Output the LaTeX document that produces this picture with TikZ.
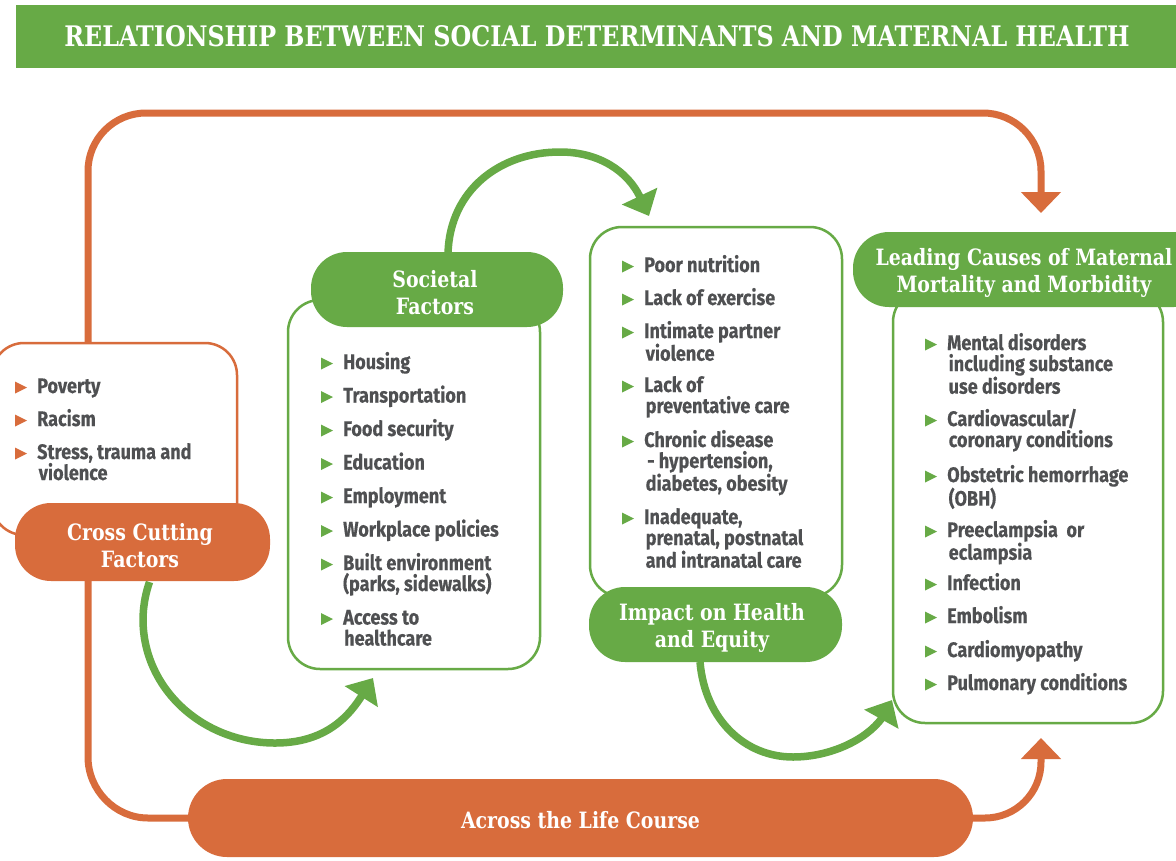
\documentclass[tikz,border=0pt]{standalone}
\usepackage{fontspec}
\usepackage{graphicx}
\usetikzlibrary{arrows.meta}

\newfontfamily\bodyfont[FakeStretch=0.86, BoldFeatures={FakeBold=0.35}]{Fira Sans}
\newfontfamily\headfont[FakeStretch=0.84]{DejaVu Serif}

\definecolor{mgreen}{HTML}{67AA46}
\definecolor{morange}{HTML}{D86C3C}
\definecolor{mgray}{HTML}{4F5052}

\tikzset{
  listbox/.style={draw=#1, line width=2.5pt, fill=white, rounded corners=32pt, inner sep=0},
  pill/.style={fill=#1, rounded corners=36pt, inner sep=0},
  headtxt/.style={text=white, align=center, inner sep=0,
    font=\headfont\bfseries\fontsize{22.5}{27}\selectfont},
  itemtxt/.style={anchor=base west, inner sep=0, text=mgray,
    font=\bodyfont\bfseries\fontsize{21}{21}\selectfont},
  oline/.style={draw=morange, line width=7pt},
  oarrow/.style={oline, -{Triangle[width=39pt,length=21pt]}},
  garrow/.style={draw=mgreen, line width=7.5pt, -{Triangle[width=38pt,length=22pt]}},
}

% bullet item: name, text x, first baseline y, bullet colour, lines
\newcommand\bitem[5]{%
  \node[itemtxt] (#1) at (#2,#3) {\vtop{#5}};
  \fill[#4] ({#2-22},{#3-11.5}) -- ({#2-10},{#3-5.5}) -- ({#2-22},{#3+0.5}) -- cycle;
}
\newcommand\iline[1]{\hbox{#1}}

\begin{document}
\begin{tikzpicture}[x=1pt,y=-1pt]
\useasboundingbox (0,0) rectangle (1176,860);
\clip (0,0) rectangle (1176,860);
\fill[white] (0,0) rectangle (1176,860);

% title banner
\node[fill=mgreen, minimum width=1160pt, minimum height=63pt, inner sep=0] (banner) at (596,36.5) {};
\node[text=white, inner sep=0] (title) at (597,36)
  {\resizebox{1065pt}{21pt}{\headfont\bfseries RELATIONSHIP BETWEEN SOCIAL DETERMINANTS AND MATERNAL HEALTH}};

% anchor points of the life-course loop
\coordinate (otop) at (88,343);
\coordinate (otip) at (1041,213);
\coordinate (obot) at (88,581);
\coordinate (ortip) at (1041,738);

% green flow arrows between the stages
\coordinate (g1s) at (149.5,582);
\coordinate (g1e) at (373,678);
\coordinate (g2s) at (448,253);
\coordinate (g2e) at (649,216);
\coordinate (g3s) at (700,662);
\coordinate (g3e) at (892,700);

% life course bar
\node[pill=morange, rounded corners=39pt, minimum width=785pt, minimum height=78pt] (life) at (580.5,818) {};
\node[headtxt] (lifetxt) at (580.5,820) {Across the Life Course};

% orange loop around everything
\draw[oarrow] (otop) -- (88,171) .. controls (88,139) and (114,113) .. (146,113)
  -- (983,113) .. controls (1015,113) and (1041,139) .. (1041,171) -- (otip);
\draw[oline] (obot) -- (88,757) .. controls (88,790) and (115,818) .. (148,818) -- (life.west);
\draw[oarrow] (life.east) -- (985,818) .. controls (1016,818) and (1041,793) .. (1041,762) -- (ortip);

% green arrows
\draw[garrow] (g1s) arc[start angle=198, end angle=90, x radius=132, y radius=123]
  .. controls (320,743) and (345,722) .. (361,697) -- (g1e);
\draw[garrow] (g2s) .. controls (450,190) and (500,152) .. (560,152)
  .. controls (600,152) and (628,172) .. (640,197) -- (g2e);
\draw[garrow] (g3s) .. controls (705,720) and (745,757) .. (793,757)
  .. controls (830,757) and (866,740) .. (882,718) -- (g3e);

% list boxes
\node[listbox=morange, minimum width=245pt, minimum height=192pt] (crossbox) at (114.5,439) {};
\node[listbox=mgreen, minimum width=252pt, minimum height=369pt] (socbox) at (414,484.5) {};
\node[listbox=mgreen, minimum width=252pt, minimum height=370pt] (impbox) at (716,412) {};
\node[listbox=mgreen, minimum width=270pt, minimum height=433pt] (leadbox) at (1028,506.5) {};

% heading pills
\node[pill=morange, minimum width=255pt, minimum height=78pt] (crosspill) at (142.5,542) {};
\node[headtxt] (crosstxt) at (140,545.5) {Cross Cutting\\Factors};
\node[pill=mgreen, minimum width=252pt, minimum height=75pt] (socpill) at (437,289.5) {};
\node[headtxt] (soctxt) at (435,293) {Societal\\Factors};
\node[pill=mgreen, minimum width=253pt, minimum height=75pt] (imppill) at (715.5,624.5) {};
\node[headtxt] (imptxt) at (712,628) {Impact on Health\\and Equity};
\node[pill=mgreen, minimum width=357pt, minimum height=75pt] (leadpill) at (1031.5,269.5) {};
\node[headtxt] (leadtxt) at (1024,273) {Leading Causes of Maternal\\Mortality and Morbidity};

% cross cutting factors
\bitem{c1}{37}{393}{morange}{\iline{Poverty}}
\bitem{c2}{37}{426}{morange}{\iline{Racism}}
\bitem{c3}{37}{459}{morange}{\iline{Stress, trauma and}\iline{\hspace{1.5pt}violence}}

% societal factors
\bitem{s1}{343}{369}{mgreen}{\iline{Housing}}
\bitem{s2}{343}{402.5}{mgreen}{\iline{Transportation}}
\bitem{s3}{343}{436}{mgreen}{\iline{Food security}}
\bitem{s4}{343}{469.5}{mgreen}{\iline{Education}}
\bitem{s5}{343}{503}{mgreen}{\iline{Employment}}
\bitem{s6}{343}{536.5}{mgreen}{\iline{Workplace policies}}
\bitem{s7}{343}{570}{mgreen}{\iline{Built environment}\iline{(parks, sidewalks)}}
\bitem{s8}{343}{624.5}{mgreen}{\iline{Access to}\iline{\hspace{1pt}healthcare}}

% impact on health and equity
\bitem{i1}{644}{272}{mgreen}{\iline{Poor nutrition}}
\bitem{i2}{644}{305}{mgreen}{\iline{Lack of exercise}}
\bitem{i3}{644}{338}{mgreen}{\iline{Intimate partner}\iline{\hspace{1.5pt}violence}}
\bitem{i4}{644}{392}{mgreen}{\iline{Lack of}\iline{\hspace{1.5pt}preventative care}}
\bitem{i5}{644}{447}{mgreen}{\iline{Chronic disease}\iline{\hspace{3pt}- hypertension,}\iline{\hspace{1.5pt}diabetes, obesity}}
\bitem{i6}{644}{524}{mgreen}{\iline{Inadequate,}\iline{\hspace{1.5pt}prenatal, postnatal}\iline{\hspace{1.5pt}and intranatal care}}

% leading causes
\bitem{l1}{947}{350}{mgreen}{\iline{Mental disorders}\iline{\hspace{1.5pt}including substance}\iline{\hspace{1.5pt}use disorders}}
\bitem{l2}{947}{426}{mgreen}{\iline{Cardiovascular/}\iline{\hspace{1.5pt}coronary conditions}}
\bitem{l3}{947}{482}{mgreen}{\iline{Obstetric hemorrhage}\iline{\hspace{1.5pt}(OBH)}}
\bitem{l4}{947}{537}{mgreen}{\iline{Preeclampsia\ \ or}\iline{\hspace{1.5pt}eclampsia}}
\bitem{l5}{947}{590}{mgreen}{\iline{Infection}}
\bitem{l6}{947}{623}{mgreen}{\iline{Embolism}}
\bitem{l7}{947}{657}{mgreen}{\iline{Cardiomyopathy}}
\bitem{l8}{947}{690}{mgreen}{\iline{Pulmonary conditions}}
\end{tikzpicture}
\end{document}
